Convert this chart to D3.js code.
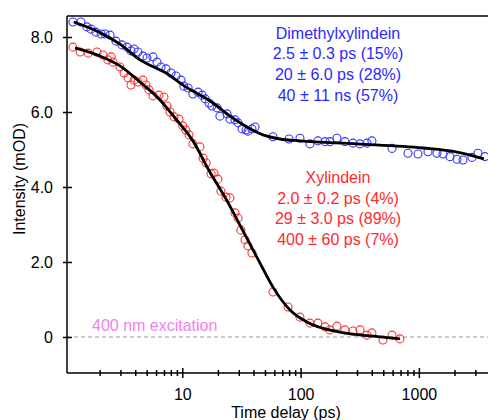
<!DOCTYPE html>
<html>
<head>
<meta charset="utf-8">
<script src="https://cdn.jsdelivr.net/npm/d3@7"></script>
<style>
  body { margin: 0; background: #fff; }
  svg { font-family: "Liberation Sans", Arial, sans-serif; }
</style>
</head>
<body>
<div id="chart"></div>
<script>
// time delay (ps) and intensity (mOD)
const dimethylT = [1.19, 1.39, 1.56, 1.69, 1.86, 2.06, 2.22, 2.45, 2.75, 3.09, 3.41, 3.68, 3.91, 4.22, 4.65, 5.03, 5.65, 6.11, 6.61, 7.28, 8.03, 8.85, 9.75, 10.3, 11.2, 12.3, 13.6, 14.7, 15.6, 16.8, 17.8, 19.7, 20.8, 23.9, 25.3, 27.9, 29.6, 32.0, 34.6, 35.9, 38.8, 41.2, 58.4, 79.8, 98.8, 120, 140, 161, 177, 203, 237, 277, 318, 364, 401, 593, 809, 983, 1194, 1422, 1599, 1832, 2100, 2360, 2810, 3160, 3620];
const dimethylY = [8.40, 8.40, 8.27, 8.21, 8.13, 8.08, 8.08, 8.05, 7.89, 7.79, 7.73, 7.63, 7.68, 7.60, 7.49, 7.44, 7.47, 7.33, 7.20, 7.15, 7.04, 6.96, 6.85, 6.69, 6.64, 6.48, 6.53, 6.45, 6.35, 6.24, 6.16, 6.11, 5.89, 5.95, 5.81, 5.79, 5.71, 5.55, 5.52, 5.49, 5.55, 5.60, 5.34, 5.28, 5.30, 5.15, 5.23, 5.21, 5.21, 5.30, 5.21, 5.17, 5.15, 5.17, 5.23, 5.03, 4.90, 4.88, 4.94, 4.90, 4.88, 4.81, 4.74, 4.72, 4.79, 4.90, 4.81];

const xylT = [1.19, 1.37, 1.60, 1.90, 2.14, 2.35, 2.50, 2.60, 2.97, 3.22, 3.48, 3.68, 3.91, 4.22, 4.65, 4.93, 5.23, 5.65, 6.35, 7.00, 7.42, 7.87, 8.51, 9.38, 10.1, 10.7, 11.4, 12.3, 14.1, 15.0, 15.9, 17.5, 18.5, 20.0, 21.2, 23.4, 25.3, 27.9, 29.6, 31.3, 33.9, 35.9, 38.8, 58.4, 78.3, 98.8, 120, 140, 161, 177, 203, 237, 277, 318, 364, 401, 497, 593, 692];
const xylY = [7.73, 7.60, 7.57, 7.60, 7.52, 7.39, 7.47, 7.33, 7.20, 7.04, 6.91, 6.72, 6.85, 6.80, 6.85, 6.72, 6.59, 6.43, 6.45, 6.40, 6.16, 6.00, 5.87, 5.81, 5.63, 5.52, 5.39, 5.15, 5.07, 4.77, 4.64, 4.35, 4.37, 4.21, 3.89, 3.73, 3.71, 3.31, 3.17, 2.85, 2.59, 2.43, 2.24, 1.20, 0.80, 0.53, 0.37, 0.37, 0.27, 0.19, 0.29, 0.19, 0.16, 0.19, 0.05, 0.11, -0.08, 0.05, -0.05];

// fitted curves
const dimethylFitT = [1.21, 1.98, 2.97, 4.39, 7.28, 10.7, 18.2, 25.3, 35.2, 48.1, 67.0, 98.8, 300, 1083, 2100, 3550];
const dimethylFitY = [8.40, 8.13, 7.81, 7.39, 7.04, 6.67, 6.24, 5.89, 5.60, 5.39, 5.28, 5.23, 5.15, 5.04, 4.93, 4.75];
const xylFitT = [1.24, 2.02, 2.97, 4.39, 6.48, 8.68, 12.3, 17.1, 23.9, 32.6, 45.4, 58.4, 81.4, 113, 215, 386, 692];
const xylFitY = [7.71, 7.49, 7.23, 6.80, 6.32, 5.84, 5.23, 4.40, 3.63, 2.83, 1.97, 1.33, 0.72, 0.40, 0.13, 0.03, -0.05];

const yTicks = [0, 2, 4, 6, 8];
const xMajor = [10, 100, 1000];
const xMinor = [2, 3, 4, 5, 6, 7, 8, 9, 20, 30, 40, 50, 60, 70, 80, 90, 200, 300, 400, 500, 600, 700, 800, 900, 2000, 3000];

const dimethylLabels = ["Dimethylxylindein", "2.5 \u00b1 0.3 ps (15%)", "20 \u00b1 6.0 ps (28%)", "40 \u00b1 11 ns (57%)"];
const xylLabels = ["Xylindein", "2.0 \u00b1 0.2 ps (4%)", "29 \u00b1 3.0 ps (89%)", "400 \u00b1 60 ps (7%)"];

const width = 488, height = 420;
const mLeft = 67, mTop = 16, mRight = 488, mBottom = 373;

const svg = d3.select('#chart').append('svg')
  .attr('width', width)
  .attr('height', height);

const x = d3.scaleLog().domain([1.06, 3840]).range([mLeft, mRight]);
const y = d3.scaleLinear().domain([-0.96, 8.56]).range([mBottom, mTop]);

// zero line
svg.append('line')
  .attr('x1', mLeft).attr('x2', mRight)
  .attr('y1', y(0)).attr('y2', y(0))
  .attr('stroke', '#999')
  .attr('stroke-width', 1)
  .attr('stroke-dasharray', '4,3');

svg.append('text')
  .attr('x', 92).attr('y', 331)
  .attr('fill', '#ee82ee')
  .style('font-size', '16px')
  .text('400 nm excitation');

// frame top line
svg.append('line')
  .attr('x1', mLeft).attr('x2', mRight)
  .attr('y1', mTop).attr('y2', mTop)
  .attr('stroke', '#000')
  .attr('stroke-width', 1.5);

// y axis
const yAxis = svg.append('g')
  .attr('transform', `translate(${mLeft},0)`)
  .call(d3.axisLeft(y).tickValues(yTicks)
    .tickFormat(d => d === 0 ? '0' : d.toFixed(1))
    .tickSizeOuter(0).tickPadding(8));
yAxis.select('.domain').attr('stroke-width', 1.5).attr('d', `M0,${mTop}V${mBottom}`);
yAxis.selectAll('.tick line').attr('x1', -4).attr('x2', 5).attr('stroke-width', 1.5);
yAxis.selectAll('.tick text').style('font-size', '16px').attr('fill', '#000');

// x axis
const xAxis = svg.append('g')
  .attr('transform', `translate(0,${mBottom})`)
  .call(d3.axisBottom(x).tickValues(xMajor)
    .tickFormat(d3.format('d'))
    .tickSizeOuter(0).tickPadding(10));
xAxis.select('.domain').attr('stroke-width', 1.5).attr('d', `M${mLeft},0H${mRight}`);
xAxis.selectAll('.tick line').attr('y1', -5).attr('y2', 5).attr('stroke-width', 1.5);
xAxis.selectAll('.tick text').style('font-size', '16px').attr('fill', '#000');

const xMinorAxis = svg.append('g')
  .attr('transform', `translate(0,${mBottom})`)
  .call(d3.axisBottom(x).tickValues(xMinor).tickFormat('').tickSizeOuter(0));
xMinorAxis.select('.domain').remove();
xMinorAxis.selectAll('.tick line').attr('y1', -3).attr('y2', 3).attr('stroke-width', 1.5);

// axis titles
svg.append('text')
  .attr('x', 286).attr('y', 418)
  .attr('text-anchor', 'middle')
  .style('font-size', '16px')
  .text('Time delay (ps)');

svg.append('text')
  .attr('transform', 'translate(25,179) rotate(-90)')
  .attr('text-anchor', 'middle')
  .style('font-size', '16px')
  .text('Intensity (mOD)');

// data circles
const drawCircles = (ts, ys, color) => {
  svg.append('g').selectAll('circle')
    .data(ts.map((t, i) => [t, ys[i]]))
    .join('circle')
    .attr('cx', d => x(d[0]))
    .attr('cy', d => y(d[1]))
    .attr('r', 4)
    .attr('fill', 'none')
    .attr('stroke', color)
    .attr('stroke-width', 1.1);
};
drawCircles(dimethylT, dimethylY, '#3434ff');
drawCircles(xylT, xylY, '#ff3434');

// fits
const line = d3.line()
  .x(d => x(d[0]))
  .y(d => y(d[1]))
  .curve(d3.curveMonotoneX);
const drawFit = (ts, ys) => {
  svg.append('path')
    .datum(ts.map((t, i) => [t, ys[i]]))
    .attr('d', line)
    .attr('fill', 'none')
    .attr('stroke', '#000')
    .attr('stroke-width', 2.8);
};
drawFit(dimethylFitT, dimethylFitY);
drawFit(xylFitT, xylFitY);

// annotations
const drawLabels = (lines, color, y0) => {
  svg.append('g').selectAll('text')
    .data(lines)
    .join('text')
    .attr('x', 338)
    .attr('y', (d, i) => y0 + i * 20.7)
    .attr('text-anchor', 'middle')
    .attr('fill', color)
    .style('font-size', '16px')
    .text(d => d);
};
drawLabels(dimethylLabels, '#2a2aff', 38.5);
drawLabels(xylLabels, '#ff2a2a', 183);
</script>
</body>
</html>
